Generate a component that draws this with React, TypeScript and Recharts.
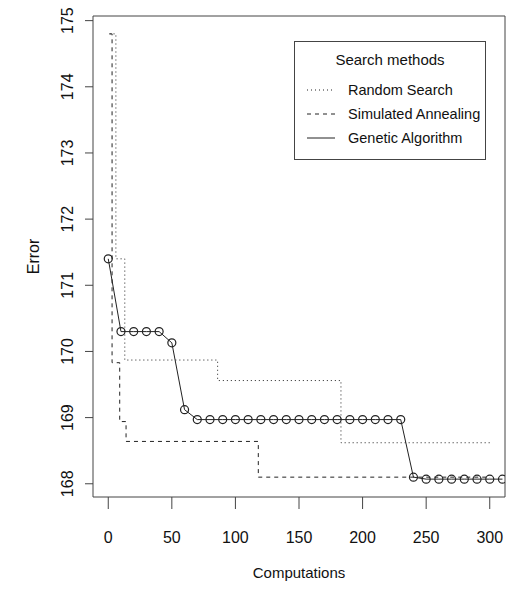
import { LineChart, Line, XAxis, YAxis, ReferenceArea, Legend } from "recharts";

// Genetic Algorithm: evaluated every 10 computations
const gaComputations = [
  0, 10, 20, 30, 40, 50, 60, 70, 80, 90, 100, 110, 120, 130, 140, 150, 160,
  170, 180, 190, 200, 210, 220, 230, 240, 250, 260, 270, 280, 290, 300, 310,
];
const gaError = [
  171.4, 170.3, 170.3, 170.3, 170.3, 170.13, 169.12, 168.97, 168.97, 168.97,
  168.97, 168.97, 168.97, 168.97, 168.97, 168.97, 168.97, 168.97, 168.97,
  168.97, 168.97, 168.97, 168.97, 168.97, 168.1, 168.07, 168.07, 168.07,
  168.07, 168.07, 168.07, 168.07,
];

// Random Search and Simulated Annealing: best error so far (change points)
const rsComputations = [1, 6, 13, 86, 183, 300];
const rsError = [174.8, 171.4, 169.87, 169.56, 168.62, 168.62];

const saComputations = [1, 3, 9, 14, 118, 300];
const saError = [174.8, 169.83, 168.94, 168.64, 168.1, 168.09];

const xTicks = [0, 50, 100, 150, 200, 250, 300];
const yTicks = [168, 169, 170, 171, 172, 173, 174, 175];

const xDomain: [number, number] = [-12, 312];
const yDomain: [number, number] = [167.8, 175.07];

const toPoints = (xs: number[], ys: number[]) => xs.map((x, i) => ({ x, error: ys[i] }));

const FONT = "'Liberation Sans', Arial, Helvetica, sans-serif";
const INK = "#222";

const series = [
  { name: "Random Search", dash: "1 3", type: "stepAfter", data: toPoints(rsComputations, rsError) },
  { name: "Simulated Annealing", dash: "4 4", type: "stepAfter", data: toPoints(saComputations, saError) },
  { name: "Genetic Algorithm", dash: undefined, type: "linear", data: toPoints(gaComputations, gaError) },
] as const;

const seriesIndex = (name: string) => series.findIndex((s) => s.name === name);

const XTick = ({ x, y, payload }: any) => (
  <text x={x} y={y} dy="0.71em" textAnchor="middle" fontSize={16} fill="#111" fontFamily={FONT}>
    {payload.value}
  </text>
);

const YTick = ({ x, y, payload }: any) => (
  <text
    x={x}
    y={y}
    textAnchor="middle"
    transform={`rotate(-90, ${x}, ${y})`}
    fontSize={16}
    fill="#111"
    fontFamily={FONT}
  >
    {payload.value}
  </text>
);

const LegendBox = ({ payload }: any) => {
  const items = [...(payload || [])].sort((a: any, b: any) => seriesIndex(a.value) - seriesIndex(b.value));
  return (
    <div
      style={{
        boxSizing: "border-box",
        width: 192,
        height: 119,
        border: "1px solid #444",
        background: "#fff",
        fontFamily: FONT,
        color: "#111",
      }}
    >
      <div style={{ marginTop: 8, height: 20, lineHeight: "20px", textAlign: "center", fontSize: 15 }}>
        Search methods
      </div>
      <div style={{ marginTop: 8 }}>
        {items.map((entry: any) => {
          const s = series[seriesIndex(entry.value)];
          return (
            <div key={entry.value} style={{ height: 24, display: "flex", alignItems: "center" }}>
              <svg width={28} height={10} style={{ marginLeft: 12, marginRight: 13 }}>
                <line x1={0} y1={5} x2={28} y2={5} stroke={INK} strokeWidth={1} strokeDasharray={s?.dash} />
              </svg>
              <span style={{ fontSize: 14.5, whiteSpace: "nowrap" }}>{entry.value}</span>
            </div>
          );
        })}
      </div>
    </div>
  );
};

export default function App() {
  return (
    <div style={{ position: "absolute", left: 0, top: 0, width: 511, height: 590, background: "#fff" }}>
      <LineChart width={511} height={590} margin={{ top: 16, right: 6, bottom: 0, left: 0 }}>
        <XAxis
          dataKey="x"
          type="number"
          domain={xDomain}
          allowDataOverflow
          ticks={xTicks}
          height={93}
          axisLine={false}
          tickSize={12}
          tickMargin={23}
          tickLine={{ stroke: "#444" }}
          tick={<XTick />}
          label={({ viewBox }: any) => (
            <text
              x={viewBox.x + viewBox.width / 2}
              y={viewBox.y + 81}
              textAnchor="middle"
              fontSize={15}
              fill="#111"
              fontFamily={FONT}
            >
              Computations
            </text>
          )}
        />
        <YAxis
          type="number"
          domain={yDomain}
          allowDataOverflow
          ticks={yTicks}
          width={93}
          axisLine={false}
          tickSize={8}
          tickMargin={12}
          tickLine={{ stroke: "#444" }}
          tick={<YTick />}
          label={({ viewBox }: any) => {
            const cx = viewBox.x + 39;
            const cy = viewBox.y + viewBox.height / 2;
            return (
              <text
                x={cx}
                y={cy}
                textAnchor="middle"
                transform={`rotate(-90, ${cx}, ${cy})`}
                fontSize={16}
                fill="#111"
                fontFamily={FONT}
              >
                Error
              </text>
            );
          }}
        />
        <ReferenceArea
          x1={xDomain[0]}
          x2={xDomain[1]}
          y1={yDomain[0]}
          y2={yDomain[1]}
          fill="none"
          fillOpacity={0}
          stroke="#444"
          strokeWidth={1}
        />
        {series.map((s) => (
          <Line
            key={s.name}
            name={s.name}
            data={s.data as any}
            dataKey="error"
            type={s.type as any}
            stroke={INK}
            strokeWidth={1}
            strokeDasharray={s.dash}
            dot={s.type === "linear" ? { r: 4, fill: "none", stroke: INK, strokeWidth: 1.2 } : false}
            activeDot={false}
            isAnimationActive={false}
          />
        ))}
        <Legend
          layout="horizontal"
          verticalAlign="middle"
          align="center"
          content={<LegendBox />}
          wrapperStyle={{ position: "absolute", left: 294, top: 41, width: 192, height: 119 }}
        />
      </LineChart>
    </div>
  );
}
